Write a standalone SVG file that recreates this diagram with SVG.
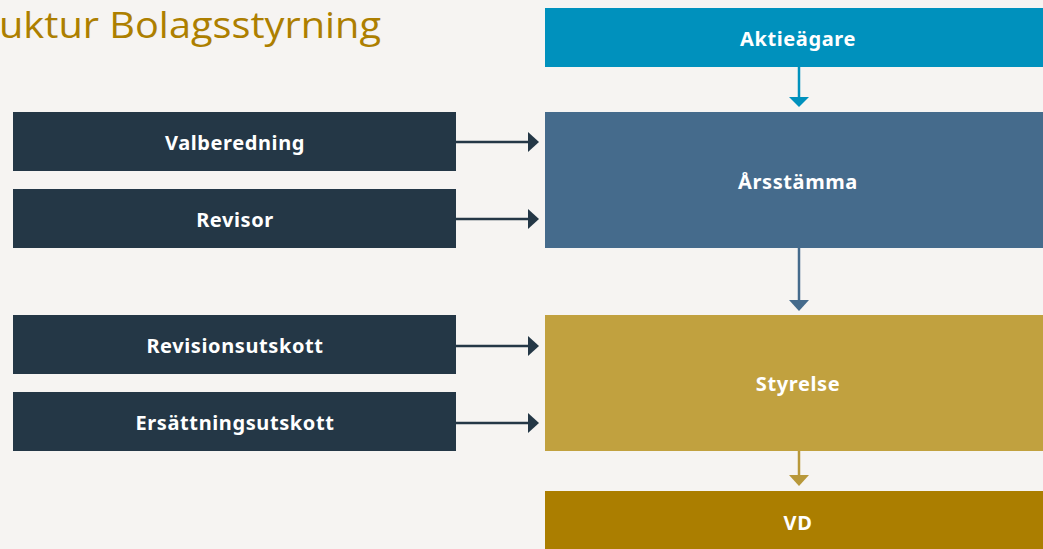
<svg xmlns="http://www.w3.org/2000/svg" width="1043" height="549" viewBox="0 0 1043 549">
<style>
.lbl{font-family:"Noto Sans","Open Sans","DejaVu Sans",sans-serif;font-weight:bold;font-size:20px;letter-spacing:0.6px;fill:#ffffff;text-anchor:middle}
.side{fill:#243746}
.title{font-family:"Open Sans","Noto Sans",sans-serif;font-size:37px;fill:#AD7F00}
</style>
<rect width="1043" height="549" fill="#F6F4F2"/>
<text class="title" x="-1" y="38" textLength="382" lengthAdjust="spacingAndGlyphs">uktur Bolagsstyrning</text>
<g id="valberedning"><rect class="side" x="13" y="112" width="443" height="59"/><text class="lbl" x="235" y="150">Valberedning</text></g>
<g id="revisor"><rect class="side" x="13" y="189" width="443" height="59"/><text class="lbl" x="235" y="227">Revisor</text></g>
<g id="revisionsutskott"><rect class="side" x="13" y="315" width="443" height="59"/><text class="lbl" x="235" y="353">Revisionsutskott</text></g>
<g id="ersattningsutskott"><rect class="side" x="13" y="392" width="443" height="59"/><text class="lbl" x="235" y="430">Ersättningsutskott</text></g>
<g id="aktieagare"><rect x="545" y="8" width="510" height="59" fill="#0091BD"/><text class="lbl" x="798" y="46">Aktieägare</text></g>
<g id="arsstamma"><rect x="545" y="112" width="510" height="136" fill="#456B8C"/><text class="lbl" x="798" y="189">Årsstämma</text></g>
<g id="styrelse"><rect x="545" y="315" width="510" height="136" fill="#C1A13F"/><text class="lbl" x="798" y="391">Styrelse</text></g>
<g id="vd"><rect x="545" y="491" width="510" height="60" fill="#AB7E00"/><text class="lbl" x="798" y="530">VD</text></g>
<g id="connectors" stroke-width="2.5" fill="none">
<g stroke="#243746" fill="#243746">
<line x1="456" y1="142" x2="530" y2="142"/><path d="M528,132 L539,142 L528,152 Z" stroke="none"/>
<line x1="456" y1="219" x2="530" y2="219"/><path d="M528,209 L539,219 L528,229 Z" stroke="none"/>
<line x1="456" y1="346" x2="530" y2="346"/><path d="M528,336 L539,346 L528,356 Z" stroke="none"/>
<line x1="456" y1="423" x2="530" y2="423"/><path d="M528,413 L539,423 L528,433 Z" stroke="none"/>
</g>
<line x1="799" y1="67" x2="799" y2="99" stroke="#0091BD"/><path d="M789,97 L809,97 L799,107 Z" fill="#0091BD"/>
<line x1="799" y1="248" x2="799" y2="302" stroke="#456B8C"/><path d="M789,300 L809,300 L799,311 Z" fill="#456B8C"/>
<line x1="799" y1="451" x2="799" y2="477" stroke="#B8983A"/><path d="M789,475 L809,475 L799,486 Z" fill="#B8983A"/>
</g>
</svg>
